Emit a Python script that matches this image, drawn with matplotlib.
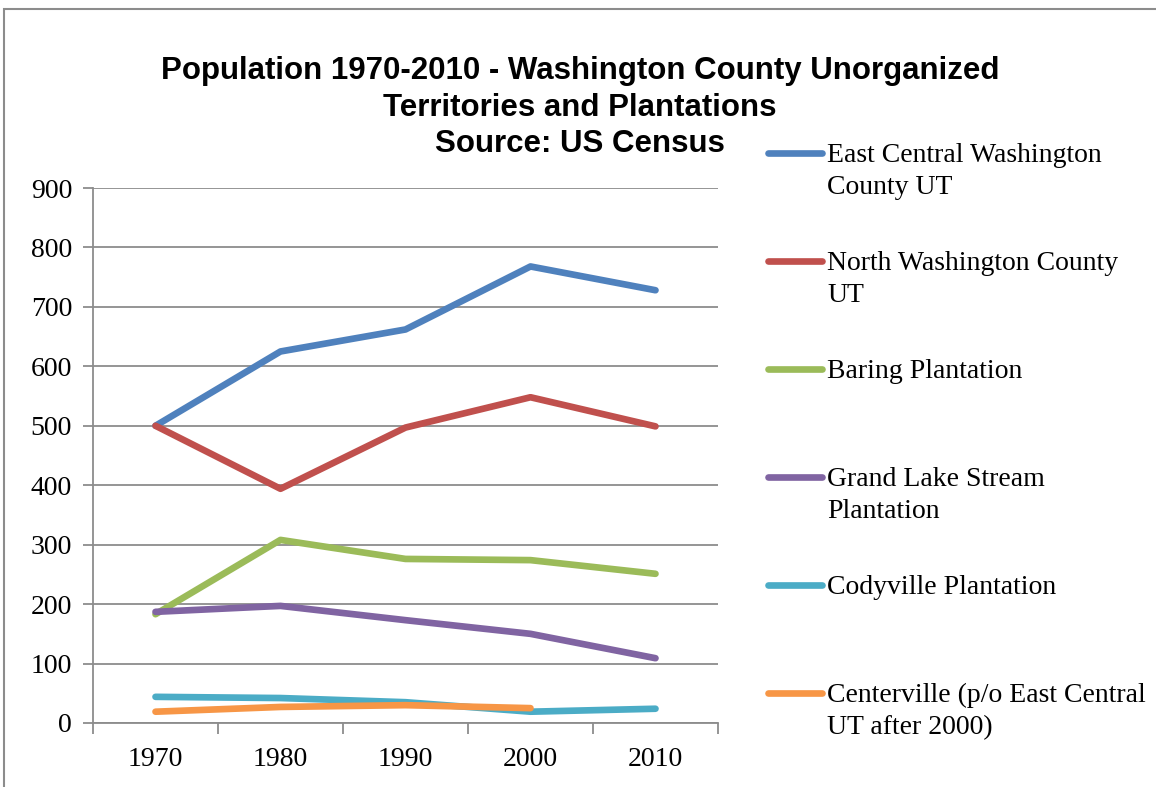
import matplotlib
matplotlib.use("Agg")
import matplotlib.pyplot as plt
from matplotlib.lines import Line2D
from matplotlib.patches import Rectangle

years = ["1970", "1980", "1990", "2000", "2010"]
east_central = [500, 625, 662, 768, 728]
north_wash = [500, 394, 497, 548, 499]
baring = [183, 308, 276, 274, 251]
grand_lake = [187, 197, 173, 150, 109]
codyville = [44, 42, 35, 19, 24]
centerville = [19, 27, 30, 25]

title_lines = ["Population 1970-2010 - Washington County Unorganized",
               "Territories and Plantations",
               "Source: US Census"]
series_names = ["East Central Washington\nCounty UT",
                "North Washington County\nUT",
                "Baring Plantation",
                "Grand Lake Stream\nPlantation",
                "Codyville Plantation",
                "Centerville (p/o East Central\nUT after 2000)"]
series_values = [east_central, north_wash, baring, grand_lake, codyville, centerville]
colors = ["#4F81BD", "#C0504D", "#9BBB59", "#8064A2", "#4BACC6", "#F79646"]

W, H = 1156, 787
fig = plt.figure(figsize=(W / 100, H / 100), dpi=100)
ax = fig.add_axes([93 / W, 1 - 723 / H, (718 - 93) / W, (723 - 188) / H])

for vals, c in zip(series_values, colors):
    ax.plot(range(len(vals)), vals, color=c, lw=4.8, solid_capstyle="round",
            solid_joinstyle="round")

ax.set_ylim(0, 900)
ax.set_xlim(-0.5, 4.5)
ax.set_yticks(range(0, 901, 100))
ax.yaxis.grid(True, color="#8c8c8c", lw=1.3)
ax.set_axisbelow(True)
ax.set_xticks([i - 0.5 for i in range(6)])
ax.set_xticklabels([])
ax.set_xticks(range(5), minor=True)
ax.set_xticklabels(years, minor=True)
ax.tick_params(axis="x", which="minor", length=0, pad=17)
ax.tick_params(axis="x", which="major", length=8, color="#8c8c8c", width=1.3)
ax.tick_params(axis="y", length=7, color="#8c8c8c", width=1.3, pad=8)
for lab in ax.get_yticklabels() + ax.get_xticklabels(minor=True):
    lab.set_fontfamily("Liberation Serif")
    lab.set_fontsize(20)
for s in ["top", "right"]:
    ax.spines[s].set_visible(False)
for s in ["left", "bottom"]:
    ax.spines[s].set_color("#8c8c8c")
    ax.spines[s].set_linewidth(1.3)

for line, yc in zip(title_lines, [68, 104, 140]):
    fig.text(580 / W, 1 - yc / H, line, ha="center", va="center_baseline",
             fontsize=22.5, fontweight="bold", family="Liberation Sans")

# legend
y0 = 153
for i, (name, c) in enumerate(zip(series_names, colors)):
    y = y0 + 108 * i
    fig.add_artist(Line2D([768 / W, 822 / W], [1 - y / H, 1 - y / H], color=c, lw=4.8,
                          solid_capstyle="round"))
    fig.text(827 / W, 1 - (y - 10) / H, name, ha="left", va="top", fontsize=20,
             family="Liberation Serif", linespacing=1.38)

fig.add_artist(Rectangle((4 / W, -0.05), 1.2, 1 - 9 / H + 0.05, fill=False,
                         edgecolor="#8c8c8c", lw=1.5, transform=fig.transFigure))

fig.savefig("out.png", dpi=100)
